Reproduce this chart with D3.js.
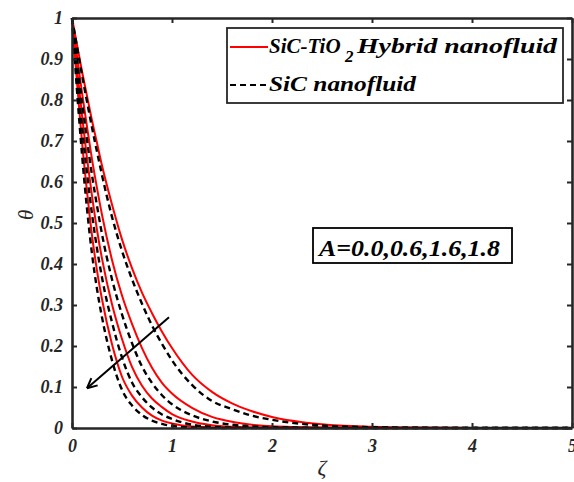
<!DOCTYPE html>
<html lang="en">
<head>
<meta charset="UTF-8">
<title>Temperature profile</title>
<style>
    body { margin: 0; background: #fff; }
    svg { display: block; }
    .tick text { font-family: "Liberation Serif", "Times New Roman", serif; font-weight: bold; font-style: italic; font-size: 18px; fill: #262626; }
    .lbl { font-family: "Liberation Serif", "Times New Roman", serif; font-style: italic; fill: #262626; }
    .leg { font-family: "Liberation Serif", "Times New Roman", serif; font-weight: bold; font-style: italic; fill: #000; }
</style>
</head>
<body>
<div id="chart"></div>
<script src="https://d3js.org/d3.v7.min.js"></script>
<script>
// zeta grid shared by all curves
const zeta = [0, 0.05, 0.1, 0.15, 0.2, 0.25, 0.3, 0.4, 0.5, 0.6, 0.7, 0.8, 0.9, 1.0, 1.2, 1.4, 1.6, 1.8, 2.0, 2.5, 3.0, 3.5, 4.0, 5.0];

// SiC-TiO2 hybrid nanofluid (red, solid), A = 0.0, 0.6, 1.6, 1.8
const hybA00 = [1, 0.935, 0.87, 0.81, 0.75, 0.695, 0.64, 0.545, 0.46, 0.39, 0.33, 0.28, 0.235, 0.195, 0.13, 0.088, 0.06, 0.041, 0.027, 0.009, 0.003, 0.001, 0.0003, 0];
const hybA06 = [1, 0.907, 0.818, 0.735, 0.655, 0.585, 0.52, 0.41, 0.323, 0.254, 0.195, 0.147, 0.11, 0.084, 0.049, 0.027, 0.015, 0.008, 0.004, 0.001, 0.0002, 0, 0, 0];
const hybA16 = [1, 0.877, 0.763, 0.658, 0.566, 0.483, 0.413, 0.302, 0.217, 0.149, 0.103, 0.072, 0.051, 0.034, 0.016, 0.007, 0.003, 0.0013, 0.0006, 0, 0, 0, 0, 0];
const hybA18 = [1, 0.843, 0.698, 0.577, 0.47, 0.384, 0.314, 0.204, 0.125, 0.079, 0.05, 0.03, 0.018, 0.011, 0.0035, 0.001, 0.0003, 0, 0, 0, 0, 0, 0, 0];

// SiC nanofluid (black, dashed)
const sicA00 = [1, 0.93, 0.861, 0.796, 0.733, 0.674, 0.617, 0.515, 0.432, 0.363, 0.303, 0.25, 0.205, 0.165, 0.105, 0.066, 0.046, 0.03, 0.02, 0.006, 0.002, 0.0005, 0.0001, 0];
const sicA06 = [1, 0.895, 0.796, 0.703, 0.617, 0.542, 0.473, 0.363, 0.277, 0.207, 0.15, 0.11, 0.08, 0.058, 0.031, 0.016, 0.008, 0.004, 0.002, 0.0004, 0, 0, 0, 0];
const sicA16 = [1, 0.862, 0.735, 0.622, 0.522, 0.438, 0.367, 0.258, 0.172, 0.111, 0.075, 0.05, 0.033, 0.022, 0.008, 0.003, 0.001, 0.0004, 0, 0, 0, 0, 0, 0];
const sicA18 = [1, 0.823, 0.668, 0.535, 0.425, 0.339, 0.27, 0.165, 0.093, 0.055, 0.032, 0.018, 0.01, 0.005, 0.0015, 0.0003, 0, 0, 0, 0, 0, 0, 0, 0];

const xTicks = [0, 1, 2, 3, 4, 5];
const yTicks = [0, 0.1, 0.2, 0.3, 0.4, 0.5, 0.6, 0.7, 0.8, 0.9, 1];

const width = 574, height = 482;
const margin = { left: 72, right: 2, top: 18, bottom: 54 };

const svg = d3.select("#chart").append("svg")
    .attr("width", width)
    .attr("height", height);

const x = d3.scaleLinear().domain([0, 5]).range([margin.left, width - margin.right]);
const y = d3.scaleLinear().domain([0, 1]).range([height - margin.bottom, margin.top]);

const line = d3.line()
    .x((d, i) => x(zeta[i]))
    .y(d => y(d))
    .curve(d3.curveMonotoneX);

// red solid curves first, then dashed on top
[hybA00, hybA06, hybA16, hybA18].forEach(s => {
    svg.append("path").attr("d", line(s))
        .attr("fill", "none").attr("stroke", "#ff0000").attr("stroke-width", 2);
});
[sicA00, sicA06, sicA16, sicA18].forEach(s => {
    svg.append("path").attr("d", line(s))
        .attr("fill", "none").attr("stroke", "#000").attr("stroke-width", 2.4)
        .attr("stroke-dasharray", "6,4");
});

// axes (box with inward ticks on all sides)
const axisCol = "#262626";
const gBottom = svg.append("g")
    .attr("transform", `translate(0,${y(0)})`)
    .call(d3.axisBottom(x).tickValues(xTicks).tickFormat(d3.format("d")).tickSizeInner(-5).tickSizeOuter(0).tickPadding(11));
const gLeft = svg.append("g")
    .attr("transform", `translate(${x(0)},0)`)
    .call(d3.axisLeft(y).tickValues(yTicks).tickFormat(d => d === 0 || d === 1 ? d : d3.format(".1f")(d)).tickSizeInner(-5).tickSizeOuter(0).tickPadding(9));
const gTop = svg.append("g")
    .attr("transform", `translate(0,${y(1)})`)
    .call(d3.axisTop(x).tickValues(xTicks).tickFormat("").tickSizeInner(-5).tickSizeOuter(0));
const gRight = svg.append("g")
    .attr("transform", `translate(${x(5)},0)`)
    .call(d3.axisRight(y).tickValues(yTicks).tickFormat("").tickSizeInner(-5).tickSizeOuter(0));

[gBottom, gLeft, gTop, gRight].forEach(g => {
    g.select(".domain").attr("stroke", axisCol).attr("stroke-width", 2.6);
    g.selectAll(".tick line").attr("stroke", axisCol).attr("stroke-width", 2);
});

// axis labels
svg.append("text").attr("class", "lbl")
    .attr("x", x(2.5)).attr("y", 475)
    .attr("text-anchor", "middle").attr("font-size", 22)
    .text("ζ");
svg.append("text").attr("class", "lbl")
    .attr("transform", `translate(33,${y(0.52)}) rotate(-90)`)
    .attr("text-anchor", "middle").attr("font-size", 21)
    .text("θ");

// arrow indicating increasing A
const arrowFrom = [0.97, 0.27], arrowTo = [0.15, 0.097];
const ax1 = x(arrowFrom[0]), ay1 = y(arrowFrom[1]);
const ax2 = x(arrowTo[0]), ay2 = y(arrowTo[1]);
svg.append("line")
    .attr("x1", ax1).attr("y1", ay1).attr("x2", ax2).attr("y2", ay2)
    .attr("stroke", "#000").attr("stroke-width", 2);
const ang = Math.atan2(ay2 - ay1, ax2 - ax1);
[0.45, -0.45].forEach(a => {
    svg.append("line")
        .attr("x1", ax2).attr("y1", ay2)
        .attr("x2", ax2 - 11 * Math.cos(ang + a)).attr("y2", ay2 - 11 * Math.sin(ang + a))
        .attr("stroke", "#000").attr("stroke-width", 2);
});

// annotation box
const ann = svg.append("g");
ann.append("rect")
    .attr("x", 313).attr("y", 228).attr("width", 199).attr("height", 35)
    .attr("fill", "#fff").attr("stroke", "#000").attr("stroke-width", 1.8);
ann.append("text").attr("class", "leg")
    .attr("x", 319).attr("y", 256).attr("font-size", 23)
    .attr("textLength", 181).attr("lengthAdjust", "spacingAndGlyphs")
    .text("A=0.0,0.6,1.6,1.8");

// legend
const leg = svg.append("g");
leg.append("rect")
    .attr("x", 227).attr("y", 28).attr("width", 336).attr("height", 75)
    .attr("fill", "#fff").attr("stroke", "#262626").attr("stroke-width", 1.8);
leg.append("line").attr("x1", 230).attr("x2", 268).attr("y1", 47).attr("y2", 47)
    .attr("stroke", "#ff0000").attr("stroke-width", 2);
leg.append("line").attr("x1", 230).attr("x2", 268).attr("y1", 85).attr("y2", 85)
    .attr("stroke", "#000").attr("stroke-width", 2).attr("stroke-dasharray", "6,4");
leg.append("text").attr("class", "leg").attr("x", 269).attr("y", 53).attr("font-size", 21)
    .text("SiC-TiO");
leg.append("text").attr("class", "leg").attr("x", 345).attr("y", 62).attr("font-size", 17)
    .text("2");
leg.append("text").attr("class", "leg").attr("x", 357).attr("y", 53).attr("font-size", 22)
    .attr("textLength", 200).attr("lengthAdjust", "spacingAndGlyphs")
    .text("Hybrid nanofluid");
leg.append("text").attr("class", "leg").attr("x", 269).attr("y", 91).attr("font-size", 22)
    .attr("textLength", 147).attr("lengthAdjust", "spacingAndGlyphs")
    .text("SiC nanofluid");
</script>
</body>
</html>
